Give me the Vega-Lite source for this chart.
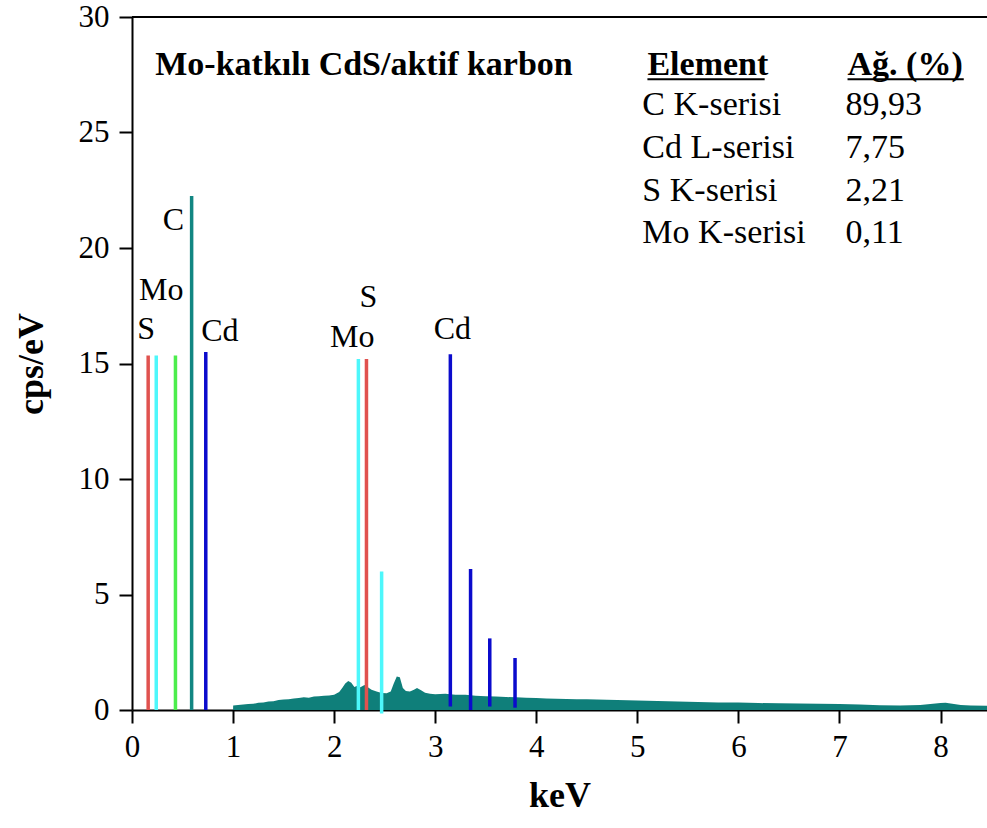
{
  "$schema": "https://vega.github.io/schema/vega-lite/v6.json",
  "width": 855,
  "height": 693,
  "autosize": {"type": "none"},
  "padding": {"left": 132, "top": 17, "right": 0, "bottom": 118},
  "background": "white",
  "config": {
    "view": {"stroke": null},
    "axis": {"grid": false, "domainColor": "black", "domainWidth": 2, "tickColor": "black", "tickWidth": 2, "tickSize": 13, "labelFont": "Times New Roman", "labelFontSize": 31, "labelColor": "black", "titleFont": "Times New Roman", "titleFontSize": 36, "titleFontWeight": "bold", "titleColor": "black"}
  },
  "datasets": {
    "spectrum": [
      {"keV": 1.0, "cps": 0.0}, {"keV": 1.001, "cps": 0.2}, {"keV": 1.05, "cps": 0.22}, {"keV": 1.1, "cps": 0.24}, {"keV": 1.15, "cps": 0.26},
      {"keV": 1.2, "cps": 0.27}, {"keV": 1.25, "cps": 0.31}, {"keV": 1.3, "cps": 0.33}, {"keV": 1.35, "cps": 0.37}, {"keV": 1.4, "cps": 0.38},
      {"keV": 1.45, "cps": 0.43}, {"keV": 1.5, "cps": 0.45}, {"keV": 1.55, "cps": 0.46}, {"keV": 1.6, "cps": 0.5}, {"keV": 1.65, "cps": 0.52},
      {"keV": 1.7, "cps": 0.55}, {"keV": 1.75, "cps": 0.53}, {"keV": 1.8, "cps": 0.58}, {"keV": 1.85, "cps": 0.6}, {"keV": 1.9, "cps": 0.62},
      {"keV": 1.95, "cps": 0.63}, {"keV": 2.0, "cps": 0.66}, {"keV": 2.05, "cps": 0.78}, {"keV": 2.08, "cps": 0.95}, {"keV": 2.11, "cps": 1.15},
      {"keV": 2.14, "cps": 1.26}, {"keV": 2.17, "cps": 1.18}, {"keV": 2.2, "cps": 1.0}, {"keV": 2.23, "cps": 1.05}, {"keV": 2.26, "cps": 0.98},
      {"keV": 2.3, "cps": 1.08}, {"keV": 2.33, "cps": 1.0}, {"keV": 2.37, "cps": 0.88}, {"keV": 2.42, "cps": 0.8}, {"keV": 2.47, "cps": 0.74},
      {"keV": 2.52, "cps": 0.72}, {"keV": 2.56, "cps": 0.8}, {"keV": 2.59, "cps": 1.15}, {"keV": 2.62, "cps": 1.45}, {"keV": 2.65, "cps": 1.42},
      {"keV": 2.68, "cps": 0.95}, {"keV": 2.71, "cps": 0.82}, {"keV": 2.75, "cps": 0.8}, {"keV": 2.79, "cps": 0.88}, {"keV": 2.82, "cps": 0.95},
      {"keV": 2.86, "cps": 0.86}, {"keV": 2.9, "cps": 0.75}, {"keV": 2.95, "cps": 0.7}, {"keV": 3.0, "cps": 0.68}, {"keV": 3.1, "cps": 0.7},
      {"keV": 3.2, "cps": 0.66}, {"keV": 3.3, "cps": 0.66}, {"keV": 3.4, "cps": 0.62}, {"keV": 3.5, "cps": 0.6}, {"keV": 3.6, "cps": 0.58},
      {"keV": 3.7, "cps": 0.56}, {"keV": 3.8, "cps": 0.55}, {"keV": 3.9, "cps": 0.53}, {"keV": 4.0, "cps": 0.52}, {"keV": 4.1, "cps": 0.5},
      {"keV": 4.2, "cps": 0.49}, {"keV": 4.3, "cps": 0.48}, {"keV": 4.4, "cps": 0.47}, {"keV": 4.5, "cps": 0.46}, {"keV": 4.6, "cps": 0.45},
      {"keV": 4.7, "cps": 0.44}, {"keV": 4.8, "cps": 0.43}, {"keV": 4.9, "cps": 0.42}, {"keV": 5.0, "cps": 0.41}, {"keV": 5.2, "cps": 0.39},
      {"keV": 5.4, "cps": 0.37}, {"keV": 5.6, "cps": 0.35}, {"keV": 5.8, "cps": 0.33}, {"keV": 6.0, "cps": 0.32}, {"keV": 6.2, "cps": 0.3},
      {"keV": 6.4, "cps": 0.29}, {"keV": 6.6, "cps": 0.28}, {"keV": 6.8, "cps": 0.27}, {"keV": 7.0, "cps": 0.26}, {"keV": 7.2, "cps": 0.24},
      {"keV": 7.4, "cps": 0.21}, {"keV": 7.6, "cps": 0.19}, {"keV": 7.8, "cps": 0.22}, {"keV": 7.9, "cps": 0.26}, {"keV": 8.0, "cps": 0.3},
      {"keV": 8.05, "cps": 0.31}, {"keV": 8.1, "cps": 0.28}, {"keV": 8.2, "cps": 0.22}, {"keV": 8.3, "cps": 0.19}, {"keV": 8.46, "cps": 0.18}
    ],
    "lines": [
      {"element": "S", "keV": 0.16, "top": 15.35, "base": 0.0},
      {"element": "Mo", "keV": 0.24, "top": 15.35, "base": 0.0},
      {"element": "diğer", "keV": 0.43, "top": 15.35, "base": 0.0},
      {"element": "C", "keV": 0.59, "top": 22.25, "base": 0.0},
      {"element": "Cd", "keV": 0.73, "top": 15.5, "base": 0.0},
      {"element": "Mo", "keV": 2.24, "top": 15.2, "base": 0.0},
      {"element": "S", "keV": 2.32, "top": 15.2, "base": 0.0},
      {"element": "Mo", "keV": 2.47, "top": 6.0, "base": -0.15},
      {"element": "Cd", "keV": 3.15, "top": 15.4, "base": 0.15},
      {"element": "Cd", "keV": 3.35, "top": 6.1, "base": 0.0},
      {"element": "Cd", "keV": 3.54, "top": 3.1, "base": 0.15},
      {"element": "Cd", "keV": 3.79, "top": 2.25, "base": 0.1}
    ],
    "labels": [
      {"text": "S", "keV": 0.14, "cps": 16.5},
      {"text": "Mo", "keV": 0.29, "cps": 18.2},
      {"text": "C", "keV": 0.41, "cps": 21.2},
      {"text": "Cd", "keV": 0.87, "cps": 16.4},
      {"text": "Mo", "keV": 2.18, "cps": 16.15},
      {"text": "S", "keV": 2.34, "cps": 17.9},
      {"text": "Cd", "keV": 3.17, "cps": 16.5}
    ],
    "table": [
      {"text": "C K-serisi", "keV": 5.05, "cps": 25.76},
      {"text": "Cd L-serisi", "keV": 5.05, "cps": 23.88},
      {"text": "S K-serisi", "keV": 5.05, "cps": 22.05},
      {"text": "Mo K-serisi", "keV": 5.05, "cps": 20.23},
      {"text": "89,93", "keV": 7.06, "cps": 25.76},
      {"text": "7,75", "keV": 7.06, "cps": 23.88},
      {"text": "2,21", "keV": 7.06, "cps": 22.05},
      {"text": "0,11", "keV": 7.06, "cps": 20.23}
    ],
    "headers": [
      {"text": "Mo-katkılı CdS/aktif karbon", "keV": 0.23, "cps": 27.5},
      {"text": "Element", "keV": 5.1, "cps": 27.5},
      {"text": "Ağ. (%)", "keV": 7.08, "cps": 27.5}
    ],
    "underlines": [
      {"keV": 5.1, "keV2": 6.26, "cps": 27.3},
      {"keV": 7.08, "keV2": 8.23, "cps": 27.3}
    ],
    "frame": [{"cps": 30}]
  },
  "layer": [
    {
      "data": {"name": "spectrum"},
      "mark": {"type": "area", "color": "#0f7f7a", "interpolate": "linear"},
      "encoding": {
        "x": {"field": "keV", "type": "quantitative", "scale": {"domain": [0, 8.46], "nice": false, "zero": false},
              "axis": {"values": [0, 1, 2, 3, 4, 5, 6, 7, 8], "format": "d", "title": "keV", "labelPadding": 9, "titlePadding": 16, "labelFlush": false}},
        "y": {"field": "cps", "type": "quantitative", "scale": {"domain": [0, 30], "nice": false},
              "axis": {"values": [0, 5, 10, 15, 20, 25, 30], "format": "d", "title": "cps/eV", "labelPadding": 10, "titlePadding": 28}}
      }
    },
    {
      "data": {"name": "lines"},
      "mark": {"type": "rule"},
      "encoding": {
        "x": {"field": "keV", "type": "quantitative"},
        "y": {"field": "top", "type": "quantitative"},
        "y2": {"field": "base"},
        "strokeWidth": {"field": "element", "type": "nominal", "scale": {"domain": ["S", "Mo", "diğer", "C", "Cd"], "range": [3.5, 3.5, 3.5, 5, 3.5]}, "legend": null},
        "color": {"field": "element", "type": "nominal", "scale": {"domain": ["S", "Mo", "diğer", "C", "Cd"], "range": ["#e0524f", "#4df7fb", "#4ced4c", "#128682", "#0b0bcc"]}, "legend": null}
      }
    },
    {
      "data": {"name": "labels"},
      "mark": {"type": "text", "font": "Times New Roman", "fontSize": 32, "align": "center", "baseline": "middle", "color": "black"},
      "encoding": {
        "x": {"field": "keV", "type": "quantitative"},
        "y": {"field": "cps", "type": "quantitative"},
        "text": {"field": "text"}
      }
    },
    {
      "data": {"name": "table"},
      "mark": {"type": "text", "font": "Times New Roman", "fontSize": 34, "align": "left", "baseline": "alphabetic", "color": "black"},
      "encoding": {
        "x": {"field": "keV", "type": "quantitative"},
        "y": {"field": "cps", "type": "quantitative"},
        "text": {"field": "text"}
      }
    },
    {
      "data": {"name": "headers"},
      "mark": {"type": "text", "font": "Times New Roman", "fontSize": 34, "fontWeight": "bold", "align": "left", "baseline": "alphabetic", "color": "black"},
      "encoding": {
        "x": {"field": "keV", "type": "quantitative"},
        "y": {"field": "cps", "type": "quantitative"},
        "text": {"field": "text"}
      }
    },
    {
      "data": {"name": "underlines"},
      "mark": {"type": "rule", "strokeWidth": 2, "color": "black"},
      "encoding": {
        "x": {"field": "keV", "type": "quantitative"},
        "x2": {"field": "keV2"},
        "y": {"field": "cps", "type": "quantitative"}
      }
    },
    {
      "data": {"name": "frame"},
      "mark": {"type": "rule", "strokeWidth": 2, "color": "black"},
      "encoding": {
        "y": {"field": "cps", "type": "quantitative"}
      }
    }
  ]
}
